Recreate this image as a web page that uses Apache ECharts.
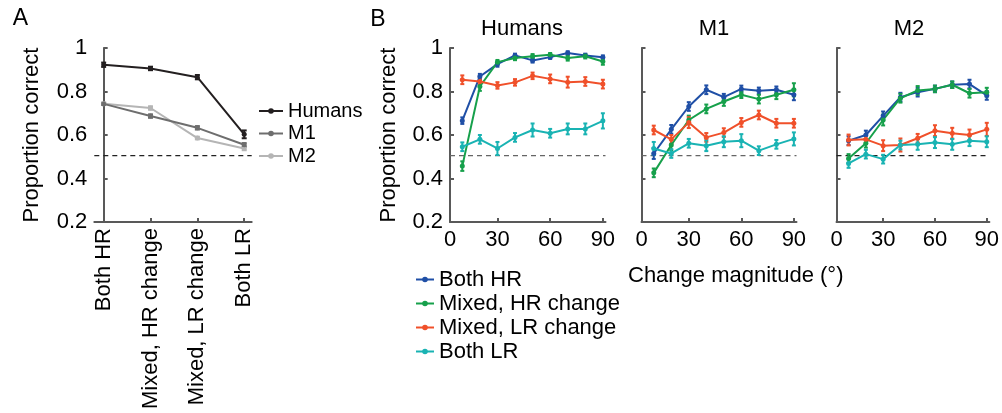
<!DOCTYPE html>
<html><head><meta charset="utf-8">
<script src="https://cdn.jsdelivr.net/npm/echarts@6/dist/echarts.min.js"></script>
<style>html,body{margin:0;padding:0;background:#fff}#c{width:1002px;height:413px}</style>
</head><body><div id="c"></div>
<script>
const FONT = "'Liberation Sans', Arial, Helvetica, sans-serif";

// ---------- Panel A data ----------
const conditions = ['Both HR', 'Mixed, HR change', 'Mixed, LR change', 'Both LR'];
const conditionIdx = [0, 1, 2, 3];
const aHumans = [0.923, 0.906, 0.866, 0.603];
const aHumansErr = [0.010, 0.008, 0.010, 0.018];
const aM1 = [0.743, 0.687, 0.633, 0.555];
const aM1Err = [0.005, 0.008, 0.008, 0.008];
const aM2 = [0.744, 0.724, 0.586, 0.538];
const aM2Err = [0.005, 0.008, 0.006, 0.008];
const chance = 0.505;

// ---------- Panel B data ----------
const magnitudes = [10, 20, 30, 40, 50, 60, 70, 80, 90];
const xTickValues = [3, 30, 60, 90];
const xTickLabels = ['0', '30', '60', '90'];
const bSeriesNames = ['Both HR', 'Mixed, HR change', 'Mixed, LR change', 'Both LR'];
const panelNames = ['Humans', 'M1', 'M2'];

const humBothHR   = [0.666, 0.869, 0.926, 0.966, 0.943, 0.958, 0.977, 0.966, 0.958];
const humMixHR    = [0.457, 0.823, 0.935, 0.954, 0.962, 0.969, 0.954, 0.962, 0.938];
const humMixLR    = [0.854, 0.846, 0.828, 0.842, 0.872, 0.858, 0.843, 0.846, 0.834];
const humBothLR   = [0.546, 0.580, 0.538, 0.589, 0.623, 0.608, 0.628, 0.628, 0.665];
const humBothHRErr = [0.015, 0.012, 0.012, 0.008, 0.010, 0.008, 0.008, 0.008, 0.008];
const humMixHRErr  = [0.022, 0.020, 0.010, 0.010, 0.010, 0.008, 0.012, 0.010, 0.015];
const humMixLRErr  = [0.020, 0.015, 0.015, 0.015, 0.015, 0.020, 0.025, 0.020, 0.020];
const humBothLRErr = [0.020, 0.020, 0.030, 0.020, 0.030, 0.020, 0.025, 0.025, 0.035];

const m1BothHR = [0.515, 0.626, 0.731, 0.808, 0.774, 0.812, 0.803, 0.808, 0.785];
const m1MixHR  = [0.426, 0.554, 0.669, 0.720, 0.754, 0.785, 0.765, 0.785, 0.808];
const m1MixLR  = [0.623, 0.580, 0.657, 0.589, 0.611, 0.658, 0.692, 0.654, 0.654];
const m1BothLR = [0.538, 0.515, 0.562, 0.551, 0.569, 0.574, 0.528, 0.557, 0.582];
const m1BothHRErr = [0.025, 0.020, 0.020, 0.020, 0.015, 0.015, 0.015, 0.015, 0.025];
const m1MixHRErr  = [0.020, 0.025, 0.020, 0.020, 0.020, 0.015, 0.020, 0.020, 0.030];
const m1MixLRErr  = [0.020, 0.020, 0.025, 0.020, 0.020, 0.020, 0.020, 0.020, 0.020];
const m1BothLRErr = [0.030, 0.020, 0.020, 0.025, 0.025, 0.030, 0.020, 0.020, 0.030];

const m2BothHR = [0.574, 0.600, 0.688, 0.774, 0.797, 0.812, 0.831, 0.834, 0.782];
const m2MixHR  = [0.492, 0.562, 0.669, 0.769, 0.805, 0.812, 0.831, 0.792, 0.797];
const m2MixLR  = [0.577, 0.580, 0.551, 0.554, 0.585, 0.620, 0.608, 0.600, 0.626];
const m2BothLR = [0.469, 0.512, 0.489, 0.554, 0.557, 0.565, 0.557, 0.574, 0.569];
const m2BothHRErr = [0.020, 0.020, 0.020, 0.020, 0.020, 0.015, 0.015, 0.020, 0.020];
const m2MixHRErr  = [0.020, 0.020, 0.025, 0.020, 0.020, 0.015, 0.015, 0.020, 0.020];
const m2MixLRErr  = [0.025, 0.020, 0.025, 0.030, 0.020, 0.025, 0.025, 0.025, 0.030];
const m2BothLRErr = [0.020, 0.020, 0.020, 0.020, 0.025, 0.025, 0.025, 0.025, 0.025];

const panelData = [
  [humBothHR, humMixHR, humMixLR, humBothLR],
  [m1BothHR, m1MixHR, m1MixLR, m1BothLR],
  [m2BothHR, m2MixHR, m2MixLR, m2BothLR]
];
const panelErr = [
  [humBothHRErr, humMixHRErr, humMixLRErr, humBothLRErr],
  [m1BothHRErr, m1MixHRErr, m1MixLRErr, m1BothLRErr],
  [m2BothHRErr, m2MixHRErr, m2MixLRErr, m2BothLRErr]
];

// ---------- styling ----------
const FS = 22;
const bColors = ['#1f4fa6', '#16a04b', '#f0502a', '#19b3b3'];
const aColors = ['#231f20', '#6e6e6e', '#b5b5b5'];
const axisColor = '#595959';
const gridsB = [
  {left: 450, top: 48, width: 155.5, height: 174},
  {left: 641.5, top: 48, width: 155, height: 174},
  {left: 836.5, top: 48, width: 155, height: 174}
];
const titleX = [522, 714, 909];

function errBars(xs, ys, es, color, xi, yi, cap) {
  return {
    type: 'custom', xAxisIndex: xi, yAxisIndex: yi, silent: true, z: 3,
    encode: {x: 0, y: [1, 2]},
    data: xs.map((x, i) => [x, ys[i] - es[i], ys[i] + es[i]]),
    renderItem(params, api) {
      const x = api.value(0);
      const lo = api.coord([x, api.value(1)]);
      const hi = api.coord([x, api.value(2)]);
      const st = {stroke: color, lineWidth: 2};
      return {type: 'group', children: [
        {type: 'line', shape: {x1: lo[0], y1: lo[1], x2: hi[0], y2: hi[1]}, style: st},
        {type: 'line', shape: {x1: lo[0] - cap, y1: lo[1], x2: lo[0] + cap, y2: lo[1]}, style: st},
        {type: 'line', shape: {x1: hi[0] - cap, y1: hi[1], x2: hi[0] + cap, y2: hi[1]}, style: st}
      ]};
    }
  };
}
function lineSeries(name, xs, ys, color, xi, yi) {
  return {
    type: 'line', name, xAxisIndex: xi, yAxisIndex: yi, z: 4,
    data: xs.map((x, i) => [x, ys[i]]),
    symbol: 'circle', symbolSize: 5, showSymbol: true,
    lineStyle: {color, width: 2}, itemStyle: {color},
    animation: false
  };
}
function chanceLine(xmin, xmax, xi, yi, color) {
  return {
    type: 'line', xAxisIndex: xi, yAxisIndex: yi, z: 2, silent: true,
    data: [[xmin, chance], [xmax, chance]], symbol: 'none',
    lineStyle: {color, width: 1.3, type: [5, 4]}, animation: false
  };
}

const yAxisBase = {
  type: 'value', min: 0.2, max: 1, interval: 0.2,
  axisLine: {show: true, lineStyle: {color: axisColor, width: 2}},
  axisTick: {show: true, inside: true, length: 4, lineStyle: {color: axisColor, width: 2}},
  splitLine: {show: false},
  axisLabel: {color: '#000', fontFamily: FONT, fontSize: FS, margin: 7,
    formatter: v => (Math.abs(v - 1) < 1e-9 ? '1' : v.toFixed(1))},
  nameTextStyle: {color: '#000', fontFamily: FONT, fontSize: FS}
};

const grid = [{left: 94.3, top: 48, width: 157.4, height: 174}].concat(gridsB);
const xAxis = [{
  gridIndex: 0, type: 'value', min: -0.2, max: 3.16,
  axisLine: {show: true, onZero: false, lineStyle: {color: axisColor, width: 2}},
  axisTick: {show: true, inside: true, length: 4, customValues: conditionIdx, lineStyle: {color: axisColor, width: 2}},
  splitLine: {show: false},
  axisLabel: {customValues: conditionIdx, rotate: 90, margin: 6, color: '#000', fontFamily: FONT, fontSize: FS,
    formatter: v => conditions[Math.round(v)]}
}];
const yAxis = [Object.assign({}, yAxisBase, {
  gridIndex: 0, name: 'Proportion correct', nameLocation: 'middle', nameRotate: 90, nameGap: 51
})];
panelNames.forEach((p, k) => {
  xAxis.push({
    gridIndex: k + 1, type: 'value', min: 3, max: 91.5,
    axisLine: {show: true, onZero: false, lineStyle: {color: axisColor, width: 2}},
    axisTick: {show: true, inside: true, length: 4, customValues: xTickValues.slice(1), lineStyle: {color: axisColor, width: 2}},
    splitLine: {show: false},
    axisLabel: {customValues: xTickValues, margin: 7, color: '#000', fontFamily: FONT, fontSize: FS,
      formatter: v => xTickLabels[xTickValues.indexOf(v)]}
  });
  const ya = Object.assign({}, yAxisBase, {gridIndex: k + 1});
  if (k === 0) {
    ya.name = 'Proportion correct'; ya.nameLocation = 'middle'; ya.nameRotate = 90; ya.nameGap = 50;
  } else {
    ya.axisLabel = Object.assign({}, yAxisBase.axisLabel, {show: false});
  }
  yAxis.push(ya);
});

const series = [];
// Panel A
series.push(chanceLine(-0.2, 3.16, 0, 0, '#222'));
[[aM2, aM2Err, 'M2', 2], [aM1, aM1Err, 'M1', 1], [aHumans, aHumansErr, 'Humans', 0]].forEach(([ys, es, name, ci]) => {
  series.push(errBars(conditionIdx, ys, es, aColors[ci], 0, 0, 2.5));
  series.push(lineSeries(name, conditionIdx, ys, aColors[ci], 0, 0));
});
// Panel B
panelNames.forEach((p, k) => {
  series.push(chanceLine(3, 91.5, k + 1, k + 1, k === 2 ? '#222' : '#666'));
  bSeriesNames.forEach((name, j) => {
    series.push(errBars(magnitudes, panelData[k][j], panelErr[k][j], bColors[j], k + 1, k + 1, 2));
    series.push(lineSeries(name, magnitudes, panelData[k][j], bColors[j], k + 1, k + 1));
  });
});

const graphic = [
  {type: 'text', x: 20.5, y: 19, style: {text: 'A', font: '23px ' + FONT, fill: '#000', textAlign: 'center', textVerticalAlign: 'middle'}},
  {type: 'text', x: 378, y: 20, style: {text: 'B', font: '23px ' + FONT, fill: '#000', textAlign: 'center', textVerticalAlign: 'middle'}},
  {type: 'text', x: 628, y: 276, style: {text: 'Change magnitude (°)', font: FS + 'px ' + FONT, fill: '#000', textAlign: 'left', textVerticalAlign: 'middle'}}
].concat(panelNames.map((p, k) => ({
  type: 'text', x: titleX[k], y: 28.5,
  style: {text: p, font: FS + 'px ' + FONT, fill: '#000', textAlign: 'center', textVerticalAlign: 'middle'}
})));

const chart = echarts.init(document.getElementById('c'), null, {renderer: 'canvas'});
chart.setOption({
  backgroundColor: '#fff',
  animation: false,
  grid, xAxis, yAxis, series, graphic,
  legend: [{
    data: ['Humans', 'M1', 'M2'], orient: 'vertical', left: 258, top: 101,
    itemWidth: 24, itemHeight: 7, itemGap: 2.5, padding: 0,
    textStyle: {fontFamily: FONT, fontSize: 20, color: '#000', lineHeight: 20},
    selectedMode: false
  }, {
    data: bSeriesNames, orient: 'vertical', left: 415, top: 268.5,
    itemWidth: 18, itemHeight: 7, itemGap: 2, padding: 0,
    textStyle: {fontFamily: FONT, fontSize: FS, color: '#000', lineHeight: 22},
    selectedMode: false
  }]
});
</script></body></html>
